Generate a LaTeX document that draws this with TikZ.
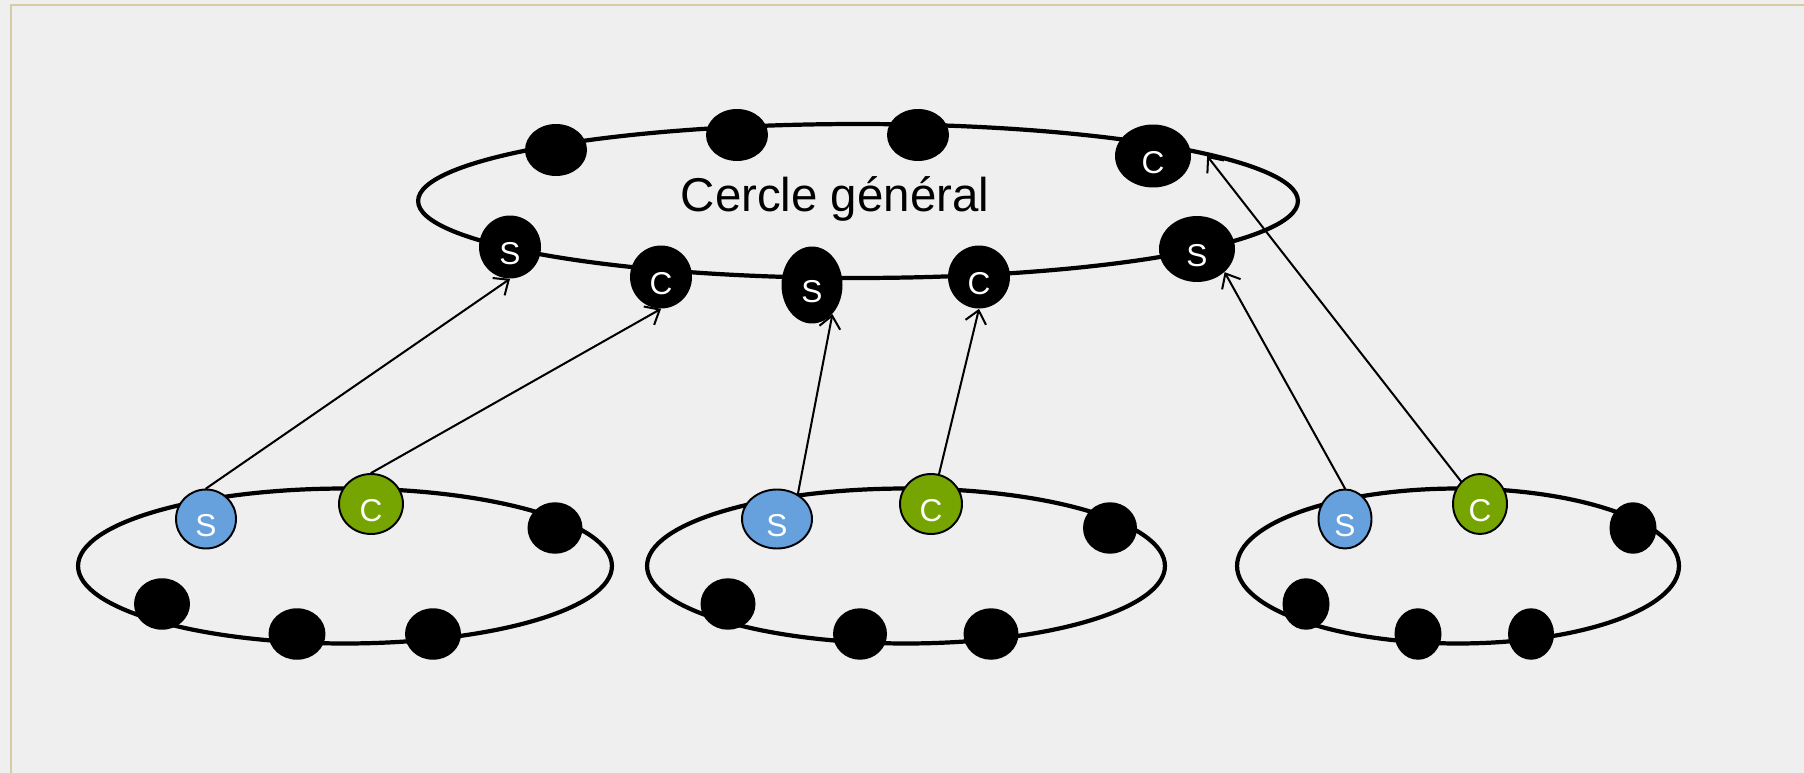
\documentclass[tikz,border=0pt]{standalone}
\usepackage{fontspec}
\setmainfont{Liberation Sans}
\usetikzlibrary{shapes.geometric,arrows.meta}
\definecolor{fond}{HTML}{EFEFEF}
\definecolor{cadre}{HTML}{D6CBA5}
\definecolor{bleuS}{HTML}{66A1DE}
\definecolor{vertC}{HTML}{76A400}
\tikzset{
  anneau/.style={line width=2.4pt},
  noir/.style={ellipse, fill=black, inner sep=0pt, text=white, text height=20pt, text depth=0pt,
    font=\fontsize{18}{18}\selectfont},
  bleu/.style={noir, fill=bleuS, draw=black, line width=1.1pt},
  vert/.style={noir, fill=vertC, draw=black, line width=1.1pt},
  fleche/.style={line width=1.15pt, -{Straight Barb[length=7pt,width=12pt]}}
}
\begin{document}
\begin{tikzpicture}[x=0.02cm, y=-0.02cm, line join=round, line cap=round]
\fill[fond] (0,0) rectangle (1804,773);
\useasboundingbox (0,0) rectangle (1804,773);
\draw[cadre, line width=1.2pt] (11,773) -- (11,5) -- (1804,5);

% les anneaux
\draw[anneau] (858,201) ellipse [x radius=8.8cm, y radius=1.54cm];
\foreach \cx/\rx in {345/5.34, 906/5.18, 1458/4.42}
  \draw[anneau] (\cx,566) ellipse [x radius=\rx cm, y radius=1.55cm];

\node[font=\fontsize{27}{30}\selectfont, anchor=base] (titre) at (835,212) {Cercle général};

% cercle general
\foreach \n/\x/\y in {t1/556/150, t2/737/135, t3/918/135}
  \node[noir, minimum width=1.24cm, minimum height=1.04cm] (\n) at (\x,\y) {};
\node[noir, minimum width=1.52cm, minimum height=1.26cm] (tc4) at (1153,156) {C};
\node[noir, minimum width=1.24cm, minimum height=1.26cm] (ts1) at (510,247) {S};
\node[noir, minimum width=1.24cm, minimum height=1.26cm] (tc1) at (661,277) {C};
\node[noir, minimum width=1.22cm, minimum height=1.54cm] (ts2) at (812,285) {S};
\node[noir, minimum width=1.24cm, minimum height=1.26cm] (tc2) at (979,277) {C};
\node[noir, minimum width=1.52cm, minimum height=1.32cm] (ts3) at (1197,249) {S};

% petits cercles
\foreach \n/\x/\y/\w in {a1/555/528/1.1, a2/162/604/1.12, a3/297/634/1.14, a4/433/634/1.12,
    b1/1110/528/1.08, b2/728/604/1.1, b3/860/634/1.08, b4/991/634/1.1,
    c1/1633/528/0.94, c2/1306/604/0.94, c3/1418/634/0.94, c4/1531/634/0.92}
  \node[noir, minimum width=\w cm, minimum height=1.03cm] (\n) at (\x,\y) {};
\node[bleu, minimum width=1.2cm, minimum height=1.18cm] (sA) at (206,519) {S};
\node[vert, minimum width=1.28cm, minimum height=1.2cm] (cA) at (371,504) {C};
\node[bleu, minimum width=1.4cm, minimum height=1.18cm] (sB) at (777,519) {S};
\node[vert, minimum width=1.24cm, minimum height=1.2cm] (cB) at (931,504) {C};
\node[bleu, minimum width=1.06cm, minimum height=1.18cm] (sC) at (1345,519) {S};
\node[vert, minimum width=1.08cm, minimum height=1.2cm] (cC) at (1480,504) {C};

\draw[fleche] (sA.north) -- (ts1.south);
\draw[fleche] (cA.north) -- (tc1.south);
\draw[fleche] (sB.50) -- (ts2.-55);
\draw[fleche] (cB.75) -- (tc2.south);
\draw[fleche] (sC.north) -- (ts3.-40);
\draw[fleche] (cC.130) -- ([xshift=9pt]tc4.east);
\end{tikzpicture}
\end{document}
